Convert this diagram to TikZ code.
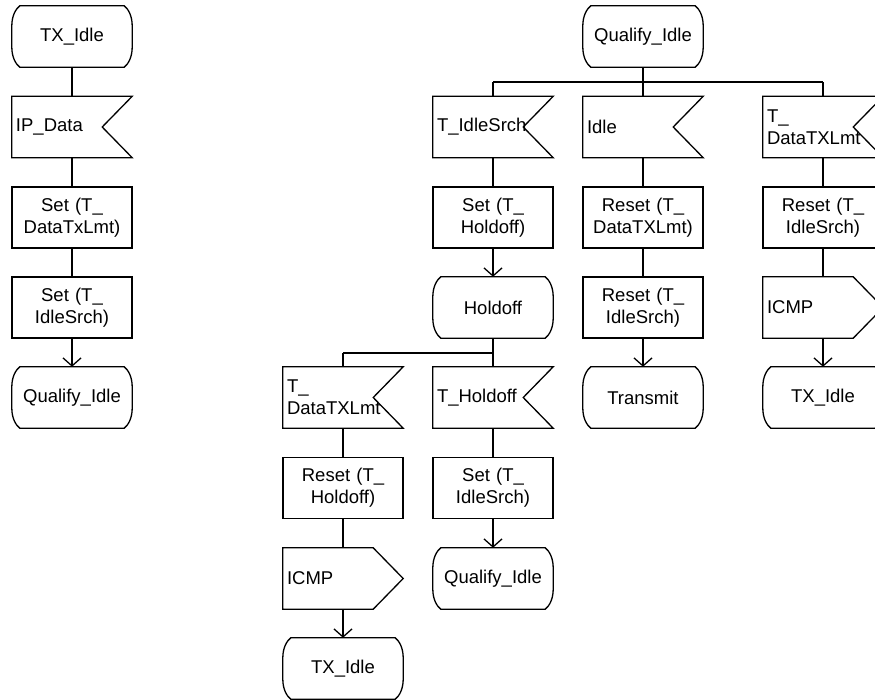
\documentclass[tikz,border=0pt]{standalone}
\usepackage{fontspec}
\setmainfont{Liberation Sans}
\usetikzlibrary{arrows.meta}
\tikzset{
  base/.style={minimum width=120pt, minimum height=61pt, inner sep=0pt, font=\fontsize{18.5}{22}\selectfont},
  statebox/.style={base, align=center},
  taskbox/.style={base, draw, line width=1.3pt, align=center, text width=112pt},
  inbox/.style={base, align=left, text width=112pt},
  outbox/.style={base, align=left, text width=112pt},
  conn/.style={line width=1.3pt},
  arr/.style={conn, -{Straight Barb[length=8pt,width=18pt]}},
  outline/.style={line width=1.3pt, line join=miter}
}
\begin{document}
\begin{tikzpicture}[x=1pt,y=-1pt]
\useasboundingbox (0,0) rectangle (875,699);
\clip (0,0) rectangle (875,699);
\fill[white] (0,0) rectangle (875,699);
% left column
\node[statebox] (s1) at (72,36.5) {TX\_Idle};
\node[inbox] (i1) at (72,127) {IP\_Data};
\node[taskbox] (t1) at (72,217.5) {Set (T\_\\DataTxLmt)};
\node[taskbox] (t2) at (72,307.5) {Set (T\_\\IdleSrch)};
\node[statebox] (s2) at (72,397.5) {Qualify\_Idle};
% right part
\node[statebox] (s3) at (643,36.5) {Qualify\_Idle};
\node[inbox] (i2) at (493,127) {T\_IdleSrch};
\node[taskbox] (t3) at (493,217.5) {Set (T\_\\Holdoff)};
\node[statebox] (s4) at (493,307.5) {Holdoff};
\node[inbox] (i5) at (493,397.5) {T\_Holdoff};
\node[taskbox] (t7) at (493,488) {Set (T\_\\IdleSrch)};
\node[statebox] (s7) at (493,578.5) {Qualify\_Idle};
\node[inbox] (i3) at (643,127) {Idle};
\node[taskbox] (t4) at (643,217.5) {Reset (T\_\\DataTXLmt)};
\node[taskbox] (t5) at (643,307.5) {Reset (T\_\\IdleSrch)};
\node[statebox] (s5) at (643,397.5) {Transmit};
\node[inbox] (i4) at (823,127) {T\_\\DataTXLmt};
\node[taskbox] (t6) at (823,217.5) {Reset (T\_\\IdleSrch)};
\node[outbox] (o1) at (823,307.5) {ICMP};
\node[statebox] (s6) at (823,397.5) {TX\_Idle};
\node[inbox] (i6) at (343,397.5) {T\_\\DataTXLmt};
\node[taskbox] (t8) at (343,488) {Reset (T\_\\Holdoff)};
\node[outbox] (o2) at (343,578.5) {ICMP};
\node[statebox] (s8) at (343,668.5) {TX\_Idle};
% outlines
\foreach \n in {s1,s2,s3,s4,s5,s6,s7,s8}{
  \draw[outline] ([xshift=8pt]\n.north west) -- ([xshift=-8pt]\n.north east)
    .. controls ([xshift=-4pt,yshift=-3pt]\n.north east) and ([yshift=-10pt]\n.north east) .. ([yshift=-20pt]\n.north east)
    -- ([yshift=20pt]\n.south east)
    .. controls ([yshift=10pt]\n.south east) and ([xshift=-4pt,yshift=3pt]\n.south east) .. ([xshift=-8pt]\n.south east)
    -- ([xshift=8pt]\n.south west)
    .. controls ([xshift=4pt,yshift=3pt]\n.south west) and ([yshift=10pt]\n.south west) .. ([yshift=20pt]\n.south west)
    -- ([yshift=-20pt]\n.north west)
    .. controls ([yshift=-10pt]\n.north west) and ([xshift=4pt,yshift=-3pt]\n.north west) .. cycle;
}
\foreach \n in {i1,i2,i3,i4,i5,i6}{
  \draw[outline] (\n.north west) -- (\n.north east) -- ([xshift=-30pt]\n.east) -- (\n.south east) -- (\n.south west) -- cycle;
}
\foreach \n in {o1,o2}{
  \draw[outline] (\n.north west) -- ([xshift=-30pt]\n.north east) -- (\n.east) -- ([xshift=-30pt]\n.south east) -- (\n.south west) -- cycle;
}
% branch points
\coordinate (b1) at (643,82);
\coordinate (b1l) at (493,82);
\coordinate (b1r) at (823,82);
\coordinate (b2) at (493,353);
\coordinate (b2l) at (343,353);
% connectors
\draw[conn] (s1) -- (i1);
\draw[conn] (i1) -- (t1);
\draw[conn] (t1) -- (t2);
\draw[arr] (t2) -- (s2);
\draw[conn] (s3) -- (b1);
\draw[conn] (b1l) -- (b1r);
\draw[conn] (b1l) -- (i2);
\draw[conn] (b1) -- (i3);
\draw[conn] (b1r) -- (i4);
\draw[conn] (i2) -- (t3);
\draw[arr] (t3) -- (s4);
\draw[conn] (s4) -- (b2);
\draw[conn] (b2l) -- (b2);
\draw[conn] (b2l) -- (i6);
\draw[conn] (b2) -- (i5);
\draw[conn] (i5) -- (t7);
\draw[arr] (t7) -- (s7);
\draw[conn] (i6) -- (t8);
\draw[conn] (t8) -- (o2);
\draw[arr] (o2) -- (s8);
\draw[conn] (i3) -- (t4);
\draw[conn] (t4) -- (t5);
\draw[arr] (t5) -- (s5);
\draw[conn] (i4) -- (t6);
\draw[conn] (t6) -- (o1);
\draw[arr] (o1) -- (s6);
\end{tikzpicture}
\end{document}
